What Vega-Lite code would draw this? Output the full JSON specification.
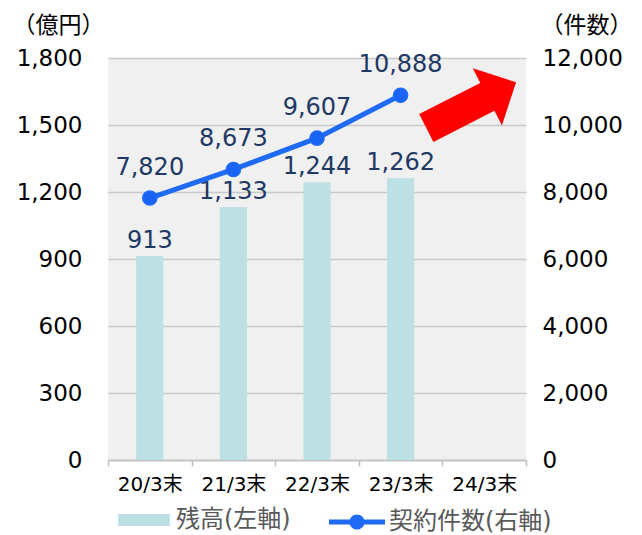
{
  "$schema": "https://vega.github.io/schema/vega-lite/v6.json",
  "width": 418,
  "height": 402,
  "autosize": {"type": "none"},
  "padding": {"left": 108, "top": 58, "right": 116, "bottom": 75},
  "background": "white",
  "config": {
    "font": "DejaVu Sans, Noto Sans CJK JP",
    "view": {"fill": "#f0f0f0", "stroke": null},
    "axis": {"labelFont": "DejaVu Sans, Noto Sans CJK JP", "titleFont": "Noto Sans CJK JP"},
    "legend": {"labelFont": "DejaVu Sans, Noto Sans CJK JP", "labelLimit": 400}
  },
  "data": {
    "values": [
      {"cat": "20/3末", "zan": 913, "ken": 7820},
      {"cat": "21/3末", "zan": 1133, "ken": 8673},
      {"cat": "22/3末", "zan": 1244, "ken": 9607},
      {"cat": "23/3末", "zan": 1262, "ken": 10888},
      {"cat": "24/3末", "zan": null, "ken": null}
    ]
  },
  "encoding": {
    "x": {
      "field": "cat",
      "type": "nominal",
      "sort": null,
      "scale": {"paddingInner": 0, "paddingOuter": 0},
      "axis": {
        "title": null,
        "labelAngle": 0,
        "labelFontSize": 20,
        "labelColor": "#000000",
        "labelPadding": 8,
        "domainColor": "#bfbfbf",
        "domainWidth": 1.5,
        "tickColor": "#bfbfbf",
        "tickWidth": 1.5,
        "tickSize": 6,
        "tickBand": "extent",
        "grid": false
      }
    }
  },
  "layer": [
    {
      "layer": [
        {
          "mark": {"type": "bar", "width": {"band": 0.325}},
          "encoding": {
            "y": {
              "field": "zan",
              "type": "quantitative",
              "scale": {"domain": [0, 1800], "nice": false},
              "axis": {
                "orient": "left",
                "values": [0, 300, 600, 900, 1200, 1500, 1800],
                "labelExpr": "format(datum.value, ',')",
                "grid": true,
                "gridColor": "#c8c8c8",
                "gridWidth": 1.5,
                "domain": false,
                "ticks": false,
                "labelFontSize": 23,
                "labelColor": "#000000",
                "labelPadding": 26,
                "title": "（億円）",
                "titleAngle": 0,
                "titleFontSize": 23,
                "titleFontWeight": "normal",
                "titleColor": "#000000",
                "titleAlign": "center",
                "titleBaseline": "middle",
                "titleX": -50,
                "titleY": -33
              }
            },
            "fill": {
              "datum": "残高(左軸)",
              "type": "nominal",
              "scale": {"range": ["#bce0e3"]},
              "legend": {
                "title": null,
                "orient": "none",
                "legendX": 10,
                "legendY": 436,
                "symbolType": "M-1,-0.23H1V0.23H-1Z",
                "symbolSize": 2704,
                "symbolStrokeWidth": 0,
                "labelFontSize": 24,
                "labelColor": "#595959",
                "labelOffset": 6
              }
            }
          }
        },
        {
          "mark": {"type": "text", "dy": -8, "baseline": "alphabetic", "fontSize": 24, "color": "#203864"},
          "encoding": {
            "y": {"field": "zan", "type": "quantitative"},
            "text": {"field": "zan", "type": "quantitative", "format": ","}
          }
        },
        {
          "data": {"values": [{"cat": "24/3末", "zan": 1589}]},
          "mark": {
            "type": "point",
            "shape": "M-1,-0.31L0.36,-0.31L0.36,-0.635L1,0L0.36,0.635L0.36,0.31L-1,0.31Z",
            "size": 10160,
            "angle": 333,
            "filled": true,
            "fill": "#ff0000",
            "opacity": 1,
            "strokeWidth": 0,
            "xOffset": -13
          },
          "encoding": {
            "y": {"field": "zan", "type": "quantitative"}
          }
        }
      ]
    },
    {
      "layer": [
        {
          "mark": {"type": "line", "strokeWidth": 5, "point": {"filled": true, "size": 200, "fill": "#1a64f5", "stroke": "#4d8fff", "strokeWidth": 1.5}},
          "encoding": {
            "y": {
              "field": "ken",
              "type": "quantitative",
              "scale": {"domain": [0, 12000], "nice": false},
              "axis": {
                "orient": "right",
                "values": [0, 2000, 4000, 6000, 8000, 10000, 12000],
                "labelExpr": "format(datum.value, ',')",
                "grid": false,
                "domain": false,
                "ticks": false,
                "labelFontSize": 23,
                "labelColor": "#000000",
                "labelPadding": 16,
                "title": "（件数）",
                "titleAngle": 0,
                "titleFontSize": 23,
                "titleFontWeight": "normal",
                "titleColor": "#000000",
                "titleAlign": "center",
                "titleBaseline": "middle",
                "titleX": 60,
                "titleY": -33
              }
            },
            "stroke": {
              "datum": "契約件数(右軸)",
              "type": "nominal",
              "scale": {"range": ["#1f6bf6"]},
              "legend": {
                "title": null,
                "orient": "none",
                "legendX": 221,
                "legendY": 436,
                "symbolType": "M-1,-0.09H1V0.09H-1Z M0.27,0A0.27,0.27,0,1,1,-0.27,0A0.27,0.27,0,1,1,0.27,0Z",
                "symbolSize": 3136,
                "labelFontSize": 24,
                "labelColor": "#595959",
                "labelOffset": 4,
                "encode": {"symbols": {"update": {
                  "shape": {"value": "M-1,-0.09H1V0.09H-1Z M0.27,0A0.27,0.27,0,1,1,-0.27,0A0.27,0.27,0,1,1,0.27,0Z"},
                  "size": {"value": 3136},
                  "fill": {"value": "#1f6bf6"},
                  "strokeWidth": {"value": 0}
                }}}
              }
            }
          }
        },
        {
          "mark": {"type": "text", "dy": -23, "baseline": "alphabetic", "fontSize": 24, "color": "#203864"},
          "encoding": {
            "y": {"field": "ken", "type": "quantitative"},
            "text": {"field": "ken", "type": "quantitative", "format": ","}
          }
        }
      ]
    }
  ],
  "resolve": {"scale": {"y": "independent"}}
}
